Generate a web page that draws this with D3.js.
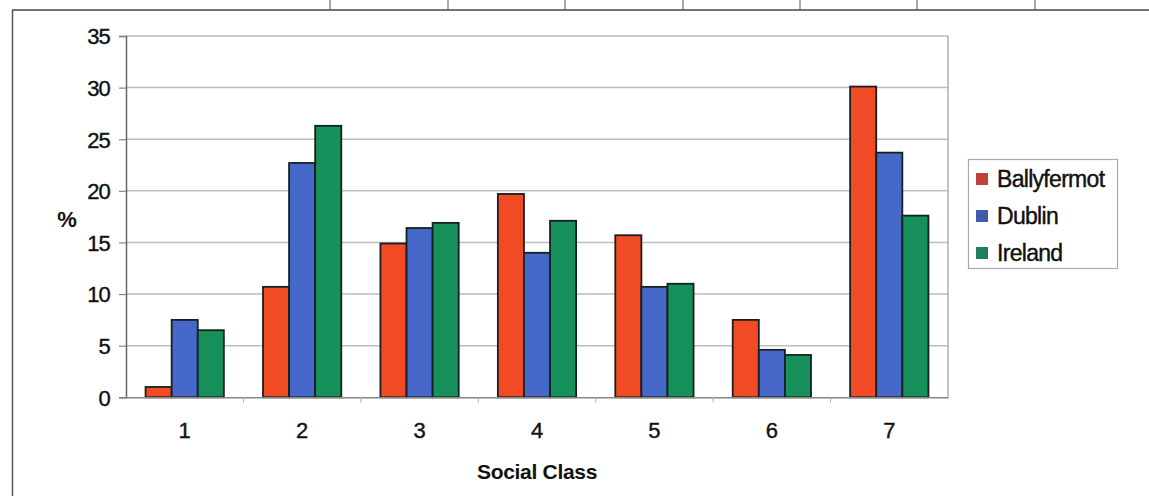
<!DOCTYPE html>
<html><head><meta charset="utf-8">
<script src="https://cdn.jsdelivr.net/npm/d3@7"></script>
<style>html,body{margin:0;padding:0;background:#fff;}svg{display:block;}</style>
</head><body>
<svg id="chart" width="1149" height="496"></svg>
<script>
const categories = ["1","2","3","4","5","6","7"];
const seriesNames = ["Ballyfermot","Dublin","Ireland"];
const ballyfermot = [1.0, 10.7, 14.9, 19.7, 15.7, 7.5, 30.1];
const dublin      = [7.5, 22.7, 16.4, 14.0, 10.7, 4.6, 23.7];
const ireland     = [6.5, 26.3, 16.9, 17.1, 11.0, 4.1, 17.6];
const yTicks = [0,5,10,15,20,25,30,35];
const barColors = ["#f14b25","#4668c8","#17915c"];
const legendColors = ["#c0413c","#3f5cab","#1f7f5b"];
const FONT = "'Liberation Sans', Arial, sans-serif";

const svg = d3.select("#chart");
const L = 126, R = 948, T = 36, B = 397.3;

// scan page frame
svg.append("line").attr("x1",12).attr("x2",1149).attr("y1",10).attr("y2",10).attr("stroke","#444").attr("stroke-width",1.5);
svg.append("line").attr("x1",12.5).attr("x2",12.5).attr("y1",10).attr("y2",496).attr("stroke","#555").attr("stroke-width",1.5);
[330,448,565,683,800,917,1035].forEach(x=>{
  svg.append("line").attr("x1",x).attr("x2",x).attr("y1",0).attr("y2",10).attr("stroke","#555").attr("stroke-width",1);
});

const x = d3.scaleBand().domain(categories).range([L,R]).padding(0);
const xs = d3.scaleBand().domain(seriesNames).range([0,x.bandwidth()]).paddingInner(0).paddingOuter(0.75);
const y = d3.scaleLinear().domain([0,35]).range([B,T]);

// gridlines
svg.append("g").selectAll("line").data(yTicks.filter(d=>d>0)).join("line")
  .attr("x1",L).attr("x2",R).attr("y1",d=>y(d)).attr("y2",d=>y(d))
  .attr("stroke","#bdbdbd").attr("stroke-width",1.5);
// plot border right
svg.append("line").attr("x1",R).attr("x2",R).attr("y1",T).attr("y2",B).attr("stroke","#999").attr("stroke-width",1.2);

const data = categories.map((c,i)=>({cat:c, vals:[ballyfermot[i],dublin[i],ireland[i]]}));
const g = svg.append("g");
data.forEach(d=>{
  d.vals.forEach((v,j)=>{
    g.append("rect")
      .attr("x", x(d.cat)+xs(seriesNames[j]))
      .attr("y", y(v))
      .attr("width", xs.bandwidth())
      .attr("height", y(0)-y(v))
      .attr("fill", barColors[j])
      .attr("stroke","#17201f").attr("stroke-width",1.8);
  });
});

// y axis
const yAxis = d3.axisLeft(y).tickValues(yTicks).tickSize(7).tickPadding(9).tickFormat(d3.format("d"));
const ya = svg.append("g").attr("transform",`translate(${L},0)`).call(yAxis);
ya.select(".domain").attr("stroke","#666").attr("stroke-width",1.5);
ya.selectAll(".tick line").attr("stroke","#888").attr("stroke-width",1.2);
ya.selectAll("text").attr("font-family",FONT).attr("font-size",22).attr("letter-spacing","-0.8")
  .attr("fill","#111").attr("stroke","#111").attr("stroke-width",0.4).attr("dy","0.36em");

// x axis
const xa = svg.append("g").attr("transform",`translate(0,${B})`).call(d3.axisBottom(x).tickSize(0).tickPadding(25));
xa.select(".domain").attr("stroke","#888").attr("stroke-width",1.5);
xa.selectAll("text").attr("font-family",FONT).attr("font-size",22)
  .attr("fill","#111").attr("stroke","#111").attr("stroke-width",0.4);
// category boundary ticks
svg.append("g").selectAll("line").data(categories.slice(1)).join("line")
  .attr("x1",d=>x(d)).attr("x2",d=>x(d)).attr("y1",B).attr("y2",B+5)
  .attr("stroke","#aaa").attr("stroke-width",1);

// axis titles
svg.append("text").attr("x",(L+R)/2).attr("y",479).attr("text-anchor","middle")
  .attr("font-family",FONT).attr("font-weight","bold").attr("font-size",21).attr("letter-spacing","-0.3").attr("fill","#111")
  .text("Social Class");
svg.append("text").attr("x",67).attr("y",227).attr("text-anchor","middle")
  .attr("font-family",FONT).attr("font-weight","bold").attr("font-size",22).attr("fill","#111")
  .text("%");

// legend
const lg = svg.append("g");
lg.append("rect").attr("x",968.5).attr("y",159.5).attr("width",149).attr("height",109)
  .attr("fill","#fff").attr("stroke","#aaa").attr("stroke-width",1.2);
const ly = [179, 216, 253];
seriesNames.forEach((s,i)=>{
  lg.append("rect").attr("x",976).attr("y",ly[i]-6).attr("width",12).attr("height",12).attr("fill",legendColors[i]);
  lg.append("text").attr("x",997).attr("y",ly[i]).attr("dy","0.36em")
    .attr("font-family",FONT).attr("font-size",23).attr("letter-spacing","-0.7").attr("fill","#111")
    .attr("stroke","#111").attr("stroke-width",0.4)
    .text(s);
});
</script>
</body></html>
